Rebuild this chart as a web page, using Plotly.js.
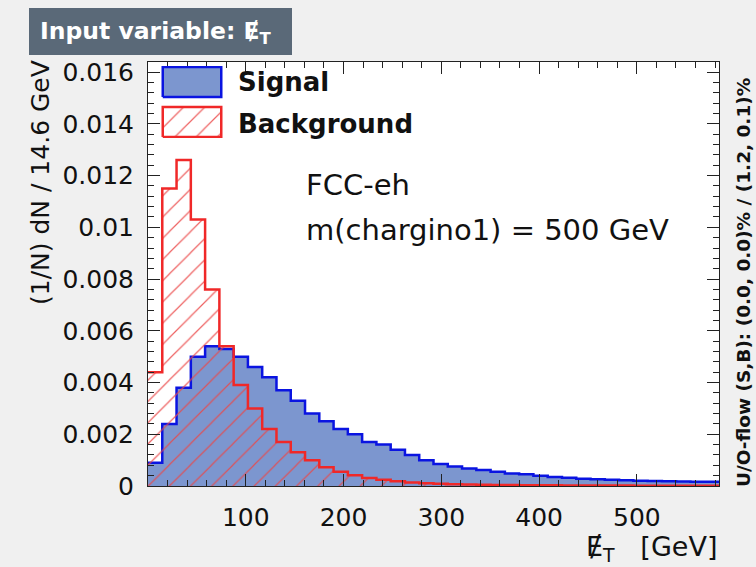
<!DOCTYPE html>
<html>
<head>
<meta charset="utf-8">
<script src="https://cdn.plot.ly/plotly-3.0.1.min.js"></script>
<style>
  html, body { margin: 0; padding: 0; background: #f0f0f0; }
  #plot { width: 756px; height: 567px; }
</style>
</head>
<body>
<div id="plot"></div>
<script>
// Missing transverse energy, normalised histograms (40 bins of 14.6 GeV)
const binWidth = 14.6;
const nBins = 40;

const signal = [
  0.0009, 0.0024, 0.0038, 0.0050, 0.0054, 0.0053, 0.0050, 0.0046, 0.0042, 0.0037,
  0.0033, 0.0028, 0.0025, 0.0022, 0.0020, 0.0017, 0.0016, 0.0014, 0.0012, 0.0010,
  0.00085, 0.00075, 0.00068, 0.00062, 0.00055, 0.00048, 0.00045, 0.00040, 0.00035, 0.00032,
  0.00028, 0.00026, 0.00024, 0.00022, 0.00020, 0.00019, 0.00018, 0.00017, 0.00016, 0.00016
];

const background = [
  0.0044, 0.0115, 0.0126, 0.0103, 0.0076, 0.0054, 0.0039, 0.0030, 0.0022, 0.0017,
  0.0013, 0.0010, 0.00072, 0.00055, 0.00042, 0.00031, 0.00024, 0.00018, 0.00014, 0.00011,
  0.00009, 0.00007, 0.00006, 0.00005, 0.00004, 0.00004, 0.00003, 0.00003, 0.00003, 0.00002,
  0.00002, 0.00002, 0.00002, 0.00002, 0.00001, 0.00001, 0.00001, 0.00001, 0.00001, 0.00001
];

const xTickVals = [100, 200, 300, 400, 500];
const yTickVals = [0, 0.002, 0.004, 0.006, 0.008, 0.010, 0.012, 0.014, 0.016];
const yTickText = ['0', '0.002', '0.004', '0.006', '0.008', '0.01', '0.012', '0.014', '0.016'];

const legendLabels = ['Signal', 'Background'];
const infoLines = ['FCC-eh', 'm(chargino1) = 500 GeV'];
const overflowText = 'U/O-flow (S,B): (0.0, 0.0)% / (1.2, 0.1)%';

// Colours
const sigLine = 'rgb(10,20,225)';
const sigFill = 'rgb(124,150,207)';
const bkgLine = 'rgb(240,40,40)';
const bkgHatch = 'rgba(235,70,70,0.85)';

// Plot frame in pixels (for placing paper-referenced decorations)
const W = 756, H = 567;
const frame = { l: 148, r: 719, t: 62, b: 486 };
const px = x => (x - frame.l) / (frame.r - frame.l);
const py = y => (frame.b - y) / (frame.b - frame.t);

// Bin edges and step arrays (value repeated at the last edge)
const edges = Array.from({ length: nBins + 1 }, (_, i) => +(i * binWidth).toFixed(2));
const step = v => v.concat([v[v.length - 1]]);

const font = 'DejaVu Sans, Verdana, sans-serif';

const traces = [
  {
    name: legendLabels[0],
    x: edges, y: step(signal),
    type: 'scatter', mode: 'lines',
    line: { shape: 'hv', color: sigLine, width: 2.5 },
    fill: 'tozeroy', fillcolor: sigFill,
    hoverinfo: 'skip', showlegend: false
  },
  {
    name: legendLabels[1],
    x: edges, y: step(background),
    type: 'scatter', mode: 'lines',
    line: { shape: 'hv', color: bkgLine, width: 2.5 },
    fill: 'tozeroy', fillcolor: 'rgba(0,0,0,0)',
    fillpattern: { shape: '/', fgcolor: bkgHatch, bgcolor: 'rgba(0,0,0,0)', size: 15, solidity: 0.08 },
    hoverinfo: 'skip', showlegend: false
  },
  // legend swatches on a small auxiliary subplot
  {
    x: [0, 1, 1, 0, 0], y: [40, 40, 70, 70, 40],
    xaxis: 'x2', yaxis: 'y2',
    type: 'scatter', mode: 'lines', fill: 'toself', fillcolor: sigFill,
    line: { color: sigLine, width: 2.5 }, hoverinfo: 'skip', showlegend: false
  },
  {
    x: [0, 1, 1, 0, 0], y: [0, 0, 30, 30, 0],
    xaxis: 'x2', yaxis: 'y2',
    type: 'scatter', mode: 'lines', fill: 'toself', fillcolor: 'white',
    fillpattern: { shape: '/', fgcolor: bkgHatch, bgcolor: 'white', size: 15, solidity: 0.08 },
    line: { color: bkgLine, width: 2.5 }, hoverinfo: 'skip', showlegend: false
  }
];

const axisCommon = {
  showline: true, linecolor: '#222', linewidth: 1, mirror: 'ticks',
  ticks: 'inside', ticklen: 12, tickwidth: 1, tickcolor: '#222',
  showgrid: false, zeroline: false,
  tickfont: { family: font, size: 25, color: '#111' }
};

const layout = {
  width: W, height: H,
  margin: { l: frame.l, r: W - frame.r, t: frame.t, b: H - frame.b, pad: 0 },
  paper_bgcolor: '#f0f0f0', plot_bgcolor: 'white',
  showlegend: false,
  xaxis: Object.assign({}, axisCommon, {
    range: [0, nBins * binWidth],
    tickmode: 'array', tickvals: xTickVals,
    minor: { dtick: 20, tick0: 0, ticks: 'inside', ticklen: 6, tickcolor: '#222' },
    ticklabelstandoff: 9
  }),
  yaxis: Object.assign({}, axisCommon, {
    range: [0, 0.01639],
    tickmode: 'array', tickvals: yTickVals, ticktext: yTickText,
    minor: { dtick: 0.0004, tick0: 0, ticks: 'inside', ticklen: 6, tickcolor: '#222' },
    ticklabelstandoff: 8
  }),
  xaxis2: { domain: [px(161), px(223)], range: [-0.03, 1.03], visible: false, fixedrange: true },
  yaxis2: { domain: [py(138), py(66)], range: [-1, 71], visible: false, fixedrange: true },
  shapes: [
    { type: 'rect', xref: 'paper', yref: 'paper',
      x0: px(29), x1: px(292), y0: py(55), y1: py(8),
      fillcolor: 'rgb(90,105,120)', line: { width: 0 }, layer: 'below' }
  ],
  annotations: [
    { text: '<b>Input variable: Ɇ<sub>T</sub></b>', xref: 'paper', yref: 'paper',
      x: px(38), y: py(32), xanchor: 'left', yanchor: 'middle', showarrow: false,
      font: { family: font, size: 23.5, color: 'white' } },
    { text: '<b>' + legendLabels[0] + '</b>', xref: 'paper', yref: 'paper',
      x: px(236), y: py(82), xanchor: 'left', yanchor: 'middle', showarrow: false,
      font: { family: font, size: 26, color: '#111' } },
    { text: '<b>' + legendLabels[1] + '</b>', xref: 'paper', yref: 'paper',
      x: px(236), y: py(124), xanchor: 'left', yanchor: 'middle', showarrow: false,
      font: { family: font, size: 26, color: '#111' } },
    { text: infoLines[0], xref: 'paper', yref: 'paper',
      x: px(304), y: py(185), xanchor: 'left', yanchor: 'middle', showarrow: false,
      font: { family: font, size: 29, color: '#111' } },
    { text: infoLines[1], xref: 'paper', yref: 'paper',
      x: px(304), y: py(230), xanchor: 'left', yanchor: 'middle', showarrow: false,
      font: { family: font, size: 29, color: '#111' } },
    { text: '(1/N) dN / 14.6 GeV', xref: 'paper', yref: 'paper', textangle: -90,
      x: px(40), y: py(183), xanchor: 'center', yanchor: 'middle', showarrow: false,
      font: { family: font, size: 25, color: '#111' } },
    { text: '<b>' + overflowText + '</b>', xref: 'paper', yref: 'paper', textangle: -90,
      x: px(743), y: py(283), xanchor: 'center', yanchor: 'middle', showarrow: false,
      font: { family: font, size: 18.5, color: '#111' } },
    { text: 'Ɇ<sub>T</sub>   [GeV]', xref: 'paper', yref: 'paper',
      x: px(719), y: py(548), xanchor: 'right', yanchor: 'middle', showarrow: false,
      font: { family: font, size: 27, color: '#111' } }
  ]
};

Plotly.newPlot('plot', traces, layout, { staticPlot: true, displayModeBar: false });
</script>
</body>
</html>
